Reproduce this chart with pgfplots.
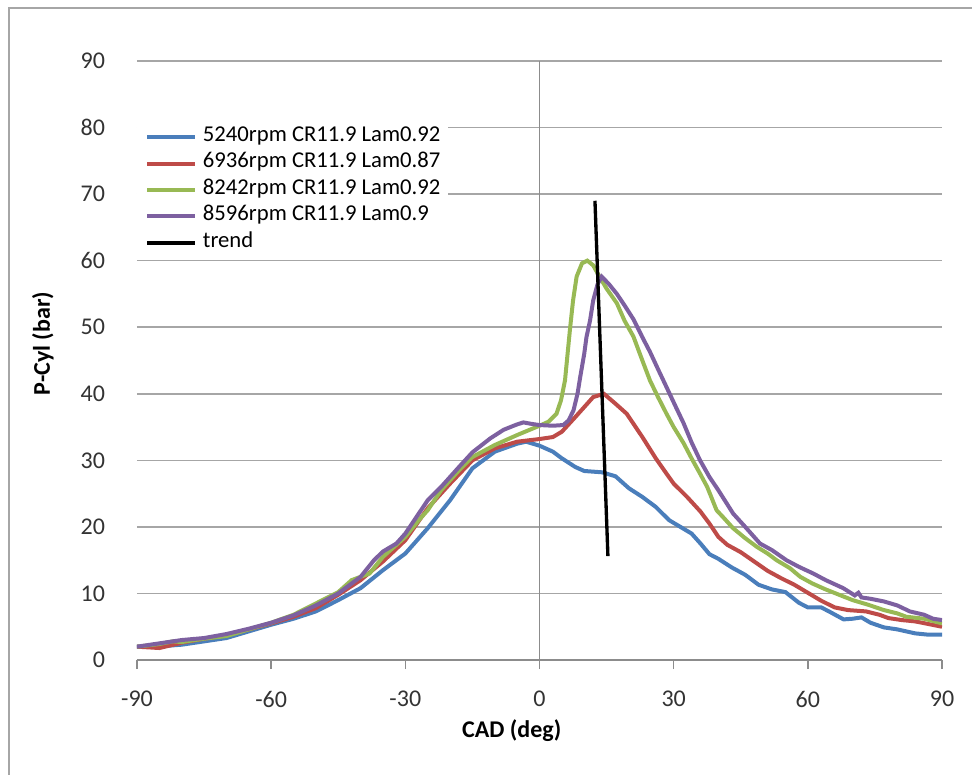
\documentclass[border=0pt]{standalone}
\usepackage{fontspec}
\setmainfont{Carlito}
\usepackage{pgfplots}
\pgfplotsset{compat=1.18}
\definecolor{cblue}{HTML}{4A7EBB}
\definecolor{cred}{HTML}{BE4B48}
\definecolor{cgreen}{HTML}{98B954}
\definecolor{cpurple}{HTML}{7D60A0}
\definecolor{gridc}{HTML}{A6A6A6}
\definecolor{axc}{HTML}{8C8C8C}
\definecolor{framec}{HTML}{A6A6A6}
\begin{document}
\begin{tikzpicture}
\begin{axis}[
  scale only axis, width=603.75pt, height=449.25pt,
  xmin=-90, xmax=90, ymin=0, ymax=90,
  xtick={-90,-60,...,90}, ytick={0,10,...,90},
  axis x line*=bottom, axis y line*=left,
  axis line style={-},
  y axis line style={draw=none},
  x axis line style={draw=axc, line width=1.2pt},
  xtick style={draw=axc, line width=1.2pt},
  ytick style={draw=none},
  tick align=outside, major tick length=6.75pt,
  ymajorgrids, grid style={gridc, line width=1.1pt},
  /pgf/number format/assume math mode=true,
  tick label style={font=\fontsize{18}{20}\selectfont, text=black!80},
  yticklabel style={xshift=-13.7pt},
  xticklabel style={yshift=-13pt},
  xlabel={\bfseries CAD (deg)}, ylabel={\bfseries P-Cyl (bar)},
  label style={font=\fontsize{18}{20}\selectfont, text=black},
  xlabel style={at={(0.4655,-0.1185)}, anchor=center},
  ylabel style={at={(-0.1168,0.5284)}, anchor=center},
  legend style={at={(0,0.8985)}, anchor=north west, draw=none, fill=white,
    inner xsep=6pt, inner ysep=1.5pt, font=\fontsize{17}{20}\selectfont,
    nodes={inner sep=0pt, text height=13pt, text depth=6.8pt},
    row sep=0pt, column sep=4.3pt},
  legend cell align=left,
  legend image code/.code={\draw[line width=3pt,#1] (0pt,0pt) -- (36pt,0pt);},
]
\draw[color=axc, line width=0.8pt] (axis cs:0,0) -- (axis cs:0,90);
\addplot[cblue, line width=3pt] coordinates {
(-90,2.0) (-85,2.0) (-82,2.2) (-80,2.3) (-75,2.8) (-70,3.3) (-65,4.3) (-60,5.3) (-55,6.2) (-50,7.3)
(-45,9.0) (-40,10.8) (-35,13.5) (-30,16.0) (-25,19.8) (-20,24.0) (-15,28.8) (-10,31.3) (-5,32.5)
(-3,32.8) (0,32.2) (3,31.3) (5,30.3) (8,29.0) (10,28.4) (14,28.2) (17,27.6) (20,25.8) (23,24.5)
(26,23.0) (29,21.0) (32,19.8) (34,19.0) (36,17.5) (38,15.9) (40,15.2) (43,13.9) (46,12.8) (49,11.3)
(52,10.6) (55,10.2) (58,8.6) (60,7.9) (63,7.9) (65,7.2) (68,6.1) (70,6.2) (72,6.4) (74,5.6)
(77,4.9) (80,4.6) (84,4.0) (87,3.8) (90,3.8)
};
\addlegendentry{5240rpm CR11.9 Lam0.92}
\addplot[cred, line width=3pt] coordinates {
(-90,2.0) (-85,1.8) (-80,2.6) (-75,3.2) (-70,3.7) (-65,4.6) (-60,5.5) (-55,6.5) (-50,7.8) (-45,9.8)
(-40,12.0) (-35,14.8) (-30,18.0) (-25,22.8) (-20,26.5) (-15,30.0) (-10,31.8) (-5,32.8) (0,33.2)
(3,33.5) (5,34.3) (8,36.5) (10,38.0) (12,39.5) (14.4,40.0) (17,38.5) (19.5,37) (21,35.5) (23,33.5)
(26,30.3) (28.4,28) (30,26.5) (33,24.5) (36,22.3) (38,20.5) (40,18.5) (42,17.3) (45,16.2) (48,14.8)
(51,13.4) (54,12.3) (57,11.3) (60,10.1) (63,8.9) (66,7.9) (69,7.5) (73,7.3) (76,6.8) (78,6.3)
(81,6.0) (84,5.8) (87,5.4) (90,5.0)
};
\addlegendentry{6936rpm CR11.9 Lam0.87}
\addplot[cgreen, line width=3pt] coordinates {
(-90,2.0) (-85,2.4) (-82,2.8) (-80,2.7) (-75,3.2) (-70,3.6) (-65,4.6) (-60,5.6) (-55,6.8) (-50,8.5)
(-45,10.2) (-42,12.0) (-38,13.0) (-35,15.5) (-30,18.5) (-27,21.0) (-25,22.5) (-22,25.5) (-18,28.5)
(-15,30.5) (-10,32.3) (-5,33.8) (0,35.2) (2,35.8) (3.8,37) (4.8,39) (5.7,42) (6.8,49.6) (7.5,54)
(8.3,57.6) (9.5,59.6) (10.7,60) (12,59.3) (13.5,57.5) (15,55.8) (17.3,53.6) (19,51) (21,48.6)
(23,45) (24.7,42) (26.5,39.5) (28.4,37) (30,35) (32.2,32.6) (34,30.3) (35.9,28) (37.5,26)
(39.6,22.5) (41,21.5) (43.3,19.8) (46,18.3) (48.6,17) (51,16) (53,15) (56,13.8) (58.3,12.5)
(61,11.5) (64,10.6) (67,9.8) (70,9.0) (73.5,8.3) (77,7.5) (80,7.0) (82,6.5) (86,6.2) (90,5.5)
};
\addlegendentry{8242rpm CR11.9 Lam0.92}
\addplot[cpurple, line width=3pt] coordinates {
(-90,2.0) (-85,2.5) (-80,3.0) (-75,3.3) (-70,3.9) (-65,4.7) (-60,5.6) (-55,6.7) (-50,8.2) (-45,10.0)
(-40,12.5) (-37,15.0) (-35,16.3) (-32,17.5) (-30,19.0) (-27,22.0) (-25,24.0) (-22,26.0) (-18,29.0)
(-15,31.2) (-11,33.3) (-8,34.6) (-5,35.4) (-3.6,35.7) (-2,35.5) (0,35.3) (3,35.2) (5.3,35.3)
(6.5,36) (7.6,37.5) (8.5,40) (9.1,42.5) (10,46) (10.5,48.5) (11.3,51) (12,54) (13,56.5) (13.9,57.6)
(15.5,56.5) (17.3,55) (19,53.3) (21,51.2) (23,48.5) (24.7,46.3) (26.5,43.7) (28.4,41) (30.5,38)
(32.2,35.6) (34,32.7) (35.9,30) (38,27.5) (40,25.5) (43.3,22) (46,20) (49.3,17.5) (52,16.5)
(55.2,15) (58,14) (61.2,13) (64,12) (67.9,10.8) (70.5,9.7) (71.3,10.1) (72,9.4) (74,9.2) (77,8.8)
(80,8.2) (82.8,7.3) (86,6.8) (88,6.2) (90,6.0)
};
\addlegendentry{8596rpm CR11.9 Lam0.9}
\addplot[black, line width=2.5pt] coordinates {(12.4,69.0) (15.3,15.6)};
\addlegendentry{trend}
\end{axis}
\draw[framec, line width=1.5pt] (-95.8pt,-86.25pt) -- (-95.8pt,489.2pt) -- (626.25pt,489.2pt);
\pgfresetboundingbox
\useasboundingbox (-102.75pt,-86.25pt) rectangle (626.25pt,495pt);
\end{tikzpicture}
\end{document}
